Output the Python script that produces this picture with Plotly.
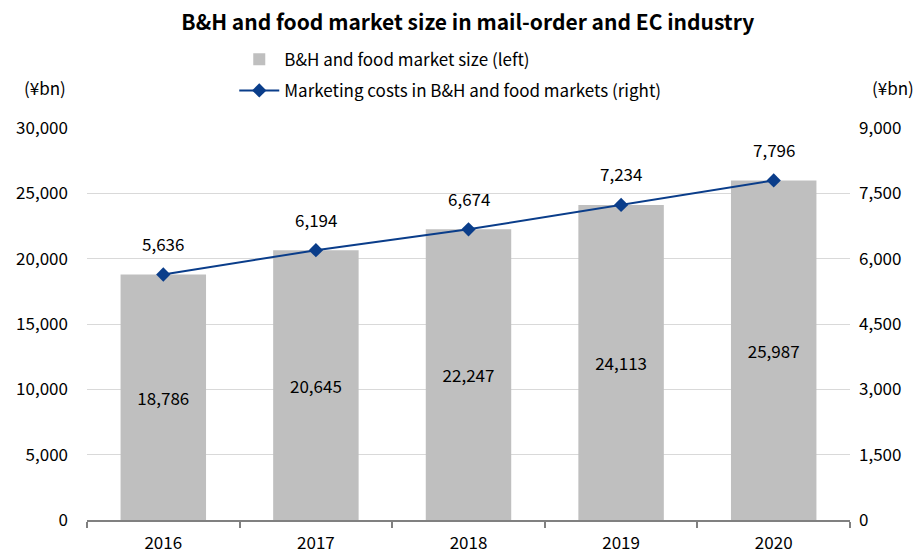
import plotly.graph_objects as go

years = ["2016", "2017", "2018", "2019", "2020"]
market_size = [18786, 20645, 22247, 24113, 25987]
marketing_costs = [5636, 6194, 6674, 7234, 7796]
left_ticks = [0, 5000, 10000, 15000, 20000, 25000, 30000]
right_ticks = [0, 1500, 3000, 4500, 6000, 7500, 9000]

FONT = "Noto Sans CJK JP"
BAR_C = "#bfbfbf"
LINE_C = "#0a3d8a"

fig = go.Figure()
fig.add_trace(go.Bar(
    x=years, y=market_size, name="B&H and food market size (left)",
    marker=dict(color=BAR_C, line=dict(width=0)), width=0.56,
    text=[f"{v:,}" for v in market_size], textposition="inside",
    insidetextanchor="middle", textfont=dict(size=17, color="#000000", family=FONT),
    yaxis="y", legendgroup="a",
))
fig.add_trace(go.Scatter(
    x=years, y=marketing_costs, name="Marketing costs in B&H and food markets (right)",
    mode="lines+markers", line=dict(color=LINE_C, width=2),
    marker=dict(symbol="diamond", size=11, color=LINE_C),
    yaxis="y2", legendgroup="b",
))

annotations = [
    dict(text="(¥bn)", xref="paper", yref="paper", x=-0.055, y=1.104,
         xanchor="center", yanchor="middle", showarrow=False, font=dict(size=17)),
    dict(text="(¥bn)", xref="paper", yref="paper", x=1.056, y=1.104,
         xanchor="center", yanchor="middle", showarrow=False, font=dict(size=17)),
]
for i, v in enumerate(marketing_costs):
    annotations.append(dict(text=f"{v:,}", x=i, y=v, xref="x", yref="y2",
                            yshift=31, showarrow=False, xanchor="center", yanchor="middle",
                            font=dict(size=17, color="#000000")))

fig.update_layout(
    width=919, height=555,
    margin=dict(l=87, r=69, t=128, b=35, autoexpand=False),
    paper_bgcolor="white", plot_bgcolor="white",
    font=dict(family=FONT, size=17, color="#000000"),
    title=dict(text="<b>B&H and food market size in mail-order and EC industry</b>",
               x=0.509, xanchor="center", y=0.96, yanchor="middle",
               font=dict(size=21, family=FONT)),
    showlegend=True,
    legend=dict(x=0.193, y=1.22, xref="paper", yref="paper", xanchor="left", yanchor="top",
                orientation="v", font=dict(size=17, family=FONT),
                bgcolor="rgba(0,0,0,0)", traceorder="grouped", itemwidth=40,
                tracegroupgap=6),
    xaxis=dict(type="category", range=[-0.5, 4.5], showgrid=False, showline=True,
               linecolor="#808080", linewidth=2, ticks="outside", tickson="boundaries",
               ticklen=6, tickcolor="#808080", tickwidth=2, tickfont=dict(size=17),
               zeroline=False, ticklabelstandoff=7, tickangle=0, automargin=False),
    yaxis=dict(range=[0, 30000], tickvals=left_ticks, tickformat=",",
               showgrid=True, gridcolor="#d9d9d9", gridwidth=1, zeroline=False,
               showline=False, ticks="", tickfont=dict(size=17), ticklabelstandoff=18,
               automargin=False),
    yaxis2=dict(range=[0, 9000], tickvals=right_ticks, tickformat=",",
                overlaying="y", side="right", showgrid=False, zeroline=False,
                showline=False, ticks="", tickfont=dict(size=17), ticklabelstandoff=8,
                automargin=False),
    annotations=annotations,
)

fig.write_html("out.html")
